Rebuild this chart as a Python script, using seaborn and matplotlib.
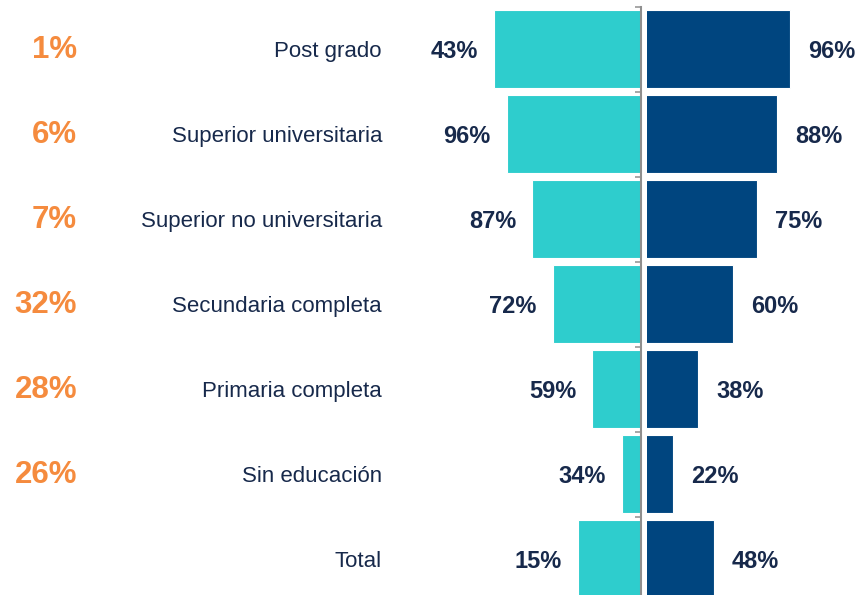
import matplotlib.pyplot as plt
import matplotlib.transforms as mtransforms
import seaborn as sns

# datos
categorias = ['Post grado', 'Superior universitaria', 'Superior no universitaria',
              'Secundaria completa', 'Primaria completa', 'Sin educación', 'Total']
participacion = ['1%', '6%', '7%', '32%', '28%', '26%', '']
barra_izq = [97, 89, 73, 60, 35, 16, 44]
etiqueta_izq = [43, 96, 87, 72, 59, 34, 15]
barra_der = [96, 88, 75, 60, 38, 22, 48]

CIAN = '#2ECDCD'
AZUL = '#00457F'
TEXTO = '#17294B'
NARANJA = '#F58B3E'
GRIS = '#8F8F8F'

sns.set_style('white')
plt.rcParams['font.family'] = ['Liberation Sans', 'DejaVu Sans']

W, H = 861, 595
fig = plt.figure(figsize=(W / 100, H / 100), dpi=100, facecolor='white')

s = 1.581  # px por punto porcentual
y_top, y_bot = 6.5, 601.5
bottom = 1 - y_bot / H
height = (y_bot - y_top) / H

# eje izquierdo (invertido)
l_left, l_right = 420, 641
ax_l = fig.add_axes([l_left / W, bottom, (l_right - l_left) / W, height])
l_min = 6.5 / s
l_max = l_min + (l_right - l_left) / s

# eje derecho
r_left, r_right = 646.7, 861
ax_r = fig.add_axes([r_left / W, bottom, (r_right - r_left) / W, height])
r_min = 8.5 / s
r_max = r_min + (r_right - r_left) / s

sns.barplot(x=barra_izq, y=categorias, orient='h', color=CIAN, width=0.92,
            saturation=1, edgecolor='white', linewidth=0.8, ax=ax_l)
sns.barplot(x=barra_der, y=categorias, orient='h', color=AZUL, width=0.92,
            saturation=1, edgecolor='white', linewidth=0.8, ax=ax_r)

for ax in (ax_l, ax_r):
    ax.set_ylim(6.5, -0.5)
    ax.set_xlabel('')
    ax.set_ylabel('')
    ax.set_xticks([])
    for sp in ax.spines.values():
        sp.set_visible(False)

ax_l.set_xlim(l_max, l_min)
ax_r.set_xlim(r_min, r_max)
ax_r.set_yticks([])

# línea central con marcas entre categorías
ax_l.spines['right'].set_visible(True)
ax_l.spines['right'].set_color(GRIS)
ax_l.spines['right'].set_linewidth(1.5)
ax_l.set_yticks([i - 0.5 for i in range(len(categorias) + 1)])
ax_l.set_yticklabels([])
ax_l.yaxis.tick_right()
ax_l.tick_params(axis='y', direction='in', length=4.5, width=1.1, color=GRIS,
                 right=True, left=False)

# etiquetas de valores
for i, (b, v) in enumerate(zip(barra_izq, etiqueta_izq)):
    ax_l.text(b + 16 / s, i, f'{v}%', ha='right', va='center_baseline', fontsize=17,
              fontweight='bold', color=TEXTO, clip_on=False)
for i, v in enumerate(barra_der):
    ax_r.text(v + 18 / s, i, f'{v}%', ha='left', va='center_baseline', fontsize=17,
              fontweight='bold', color=TEXTO, clip_on=False)

# categorías y participación
trans = mtransforms.blended_transform_factory(fig.transFigure, ax_l.transData)
for i, (c, p) in enumerate(zip(categorias, participacion)):
    fig.text(382 / W, i, c, ha='right', va='center_baseline', fontsize=16,
             color=TEXTO, transform=trans)
    if p:
        fig.text(77 / W, i - 0.03, p, ha='right', va='center_baseline', fontsize=22.5,
                 fontweight='bold', color=NARANJA, transform=trans)

plt.savefig('out.png', dpi=100, facecolor='white')
